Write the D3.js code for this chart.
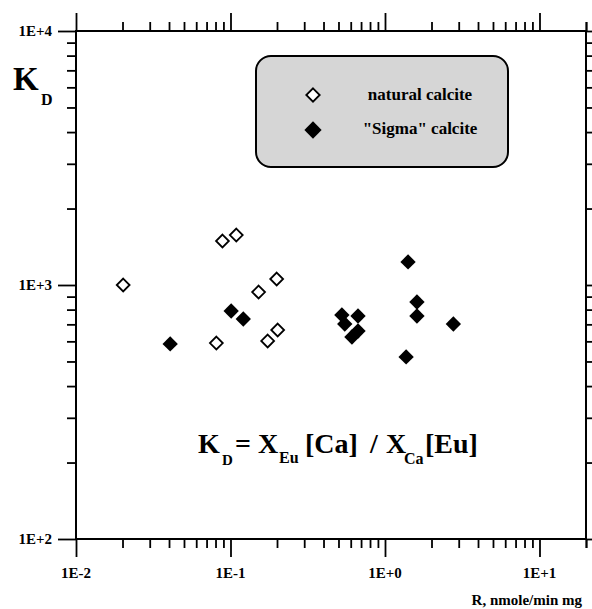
<!DOCTYPE html>
<html>
<head>
<meta charset="utf-8">
<script src="https://cdn.jsdelivr.net/npm/d3@7"></script>
<style>
  body { margin: 0; background: #fff; }
  text { font-family: "Liberation Serif", "Times New Roman", serif; font-weight: bold; }
</style>
</head>
<body>
<div id="chart"></div>
<script>
// natural calcite (open diamonds)
const NATURAL_R  = [0.0202, 0.0887, 0.109, 0.199, 0.152, 0.081, 0.174, 0.202];
const NATURAL_KD = [1000,   1490,   1573,  1056,  938,   591,   602,   665];
// "Sigma" calcite (filled diamonds)
const SIGMA_R  = [0.0407, 0.101, 0.121, 1.41, 1.61, 1.61, 2.77, 1.37, 0.526, 0.669, 0.549, 0.611, 0.669];
const SIGMA_KD = [586,    790,   735,   1233, 857,  755,  702,  521,  762,   755,   702,   624,   659];

const X_TICKS = [0.01, 0.1, 1, 10];
const X_LABELS = ["1E-2", "1E-1", "1E+0", "1E+1"];
const Y_TICKS = [100, 1000, 10000];
const Y_LABELS = ["1E+2", "1E+3", "1E+4"];

const W = 592, H = 609;
const M = { top: 31, right: 6, bottom: 70, left: 76 };

const svg = d3.select("#chart").append("svg")
    .attr("width", W).attr("height", H);

const x = d3.scaleLog().domain([0.01, 20]).range([M.left, W - M.right]);
const y = d3.scaleLog().domain([100, 10000]).range([H - M.bottom, M.top]);

// minor tick values, 1..9 per decade
const xMinor = [];
[0.01, 0.1, 1, 10].forEach(d => { for (let k = 1; k <= 9; k++) if (d * k <= 20) xMinor.push(d * k); });
xMinor.push(20);
const yMinor = [];
[100, 1000].forEach(d => { for (let k = 1; k <= 9; k++) yMinor.push(d * k); });
yMinor.push(10000);

const isMajor = v => Math.abs(Math.log10(v) - Math.round(Math.log10(v))) < 1e-6;
const MAJ = 18, MIN = 9;

function styleAxis(g, vertical, dir) {
    g.select(".domain").remove();
    g.selectAll(".tick line")
        .attr("stroke", "#000").attr("stroke-width", 1.8)
        .attr(vertical ? "x2" : "y2", d => dir * (isMajor(d) ? MAJ : MIN));
    g.selectAll(".tick text").remove();
}

const axBottom = svg.append("g")
    .attr("transform", `translate(0,${H - M.bottom})`)
    .call(d3.axisBottom(x).tickValues(xMinor).tickFormat(""));
styleAxis(axBottom, false, 1);
const axTop = svg.append("g")
    .attr("transform", `translate(0,${M.top})`)
    .call(d3.axisTop(x).tickValues(xMinor).tickFormat(""));
styleAxis(axTop, false, -1);
const axLeft = svg.append("g")
    .attr("transform", `translate(${M.left},0)`)
    .call(d3.axisLeft(y).tickValues(yMinor).tickFormat(""));
styleAxis(axLeft, true, -1);
const axRight = svg.append("g")
    .attr("transform", `translate(${W - M.right},0)`)
    .call(d3.axisRight(y).tickValues(yMinor).tickFormat(""));
styleAxis(axRight, true, 1);

// frame
svg.append("rect")
    .attr("x", M.left).attr("y", M.top)
    .attr("width", W - M.right - M.left).attr("height", H - M.bottom - M.top)
    .attr("fill", "none").attr("stroke", "#000").attr("stroke-width", 2);

// tick labels
svg.selectAll(".xlab").data(X_TICKS).enter().append("text")
    .attr("x", d => x(d)).attr("y", H - M.bottom + 39)
    .attr("text-anchor", "middle").attr("font-size", 15)
    .text((d, i) => X_LABELS[i]);
svg.selectAll(".ylab").data(Y_TICKS).enter().append("text")
    .attr("x", 52).attr("y", d => y(d) + 5)
    .attr("text-anchor", "end").attr("font-size", 15)
    .text((d, i) => Y_LABELS[i]);

// axis titles
svg.append("text").attr("x", 582).attr("y", 605)
    .attr("text-anchor", "end").attr("font-size", 15)
    .text("R, nmole/min mg");
const kd = svg.append("text").attr("y", 90).attr("font-size", 33);
kd.append("tspan").attr("x", 13).text("K");
kd.append("tspan").attr("x", 41).attr("y", 105).attr("font-size", 16).text("D");

// legend
svg.append("rect")
    .attr("x", 256).attr("y", 56).attr("width", 252).attr("height", 111)
    .attr("rx", 15).attr("ry", 15)
    .attr("fill", "#d6d6d6").attr("stroke", "#000").attr("stroke-width", 2);

const diamond = d3.symbol().type(d3.symbolDiamond2);
svg.append("path").attr("d", diamond.size(115)())
    .attr("transform", "translate(313,95)")
    .attr("fill", "#fff").attr("stroke", "#000").attr("stroke-width", 1.8);
svg.append("path").attr("d", diamond.size(190)())
    .attr("transform", "translate(313,130)")
    .attr("fill", "#000");
svg.append("text").attr("x", 420).attr("y", 100)
    .attr("text-anchor", "middle").attr("font-size", 17).text("natural calcite");
svg.append("text").attr("x", 420).attr("y", 134)
    .attr("text-anchor", "middle").attr("font-size", 17).text("\"Sigma\" calcite");

// points
const natural = NATURAL_R.map((r, i) => ({ r, kd: NATURAL_KD[i] }));
const sigma = SIGMA_R.map((r, i) => ({ r, kd: SIGMA_KD[i] }));

svg.selectAll(".nat").data(natural).enter().append("path")
    .attr("d", diamond.size(105)())
    .attr("transform", d => `translate(${x(d.r)},${y(d.kd)})`)
    .attr("fill", "#fff").attr("stroke", "#000").attr("stroke-width", 1.8);
svg.selectAll(".sig").data(sigma).enter().append("path")
    .attr("d", diamond.size(150)())
    .attr("transform", d => `translate(${x(d.r)},${y(d.kd)})`)
    .attr("fill", "#000");

// formula
const f = svg.append("text").attr("y", 453).attr("font-size", 28);
f.append("tspan").attr("x", 198).text("K");
f.append("tspan").attr("x", 222).attr("y", 465).attr("font-size", 15).text("D");
f.append("tspan").attr("x", 235).attr("y", 453).text("=");
f.append("tspan").attr("x", 258).text("X");
f.append("tspan").attr("x", 279).attr("y", 463).attr("font-size", 16).text("Eu");
f.append("tspan").attr("x", 305).attr("y", 453).text("[Ca]");
f.append("tspan").attr("x", 370).text("/");
f.append("tspan").attr("x", 386).text("X");
f.append("tspan").attr("x", 404).attr("y", 464).attr("font-size", 16).text("Ca");
f.append("tspan").attr("x", 425).attr("y", 453).text("[Eu]");
</script>
</body>
</html>
